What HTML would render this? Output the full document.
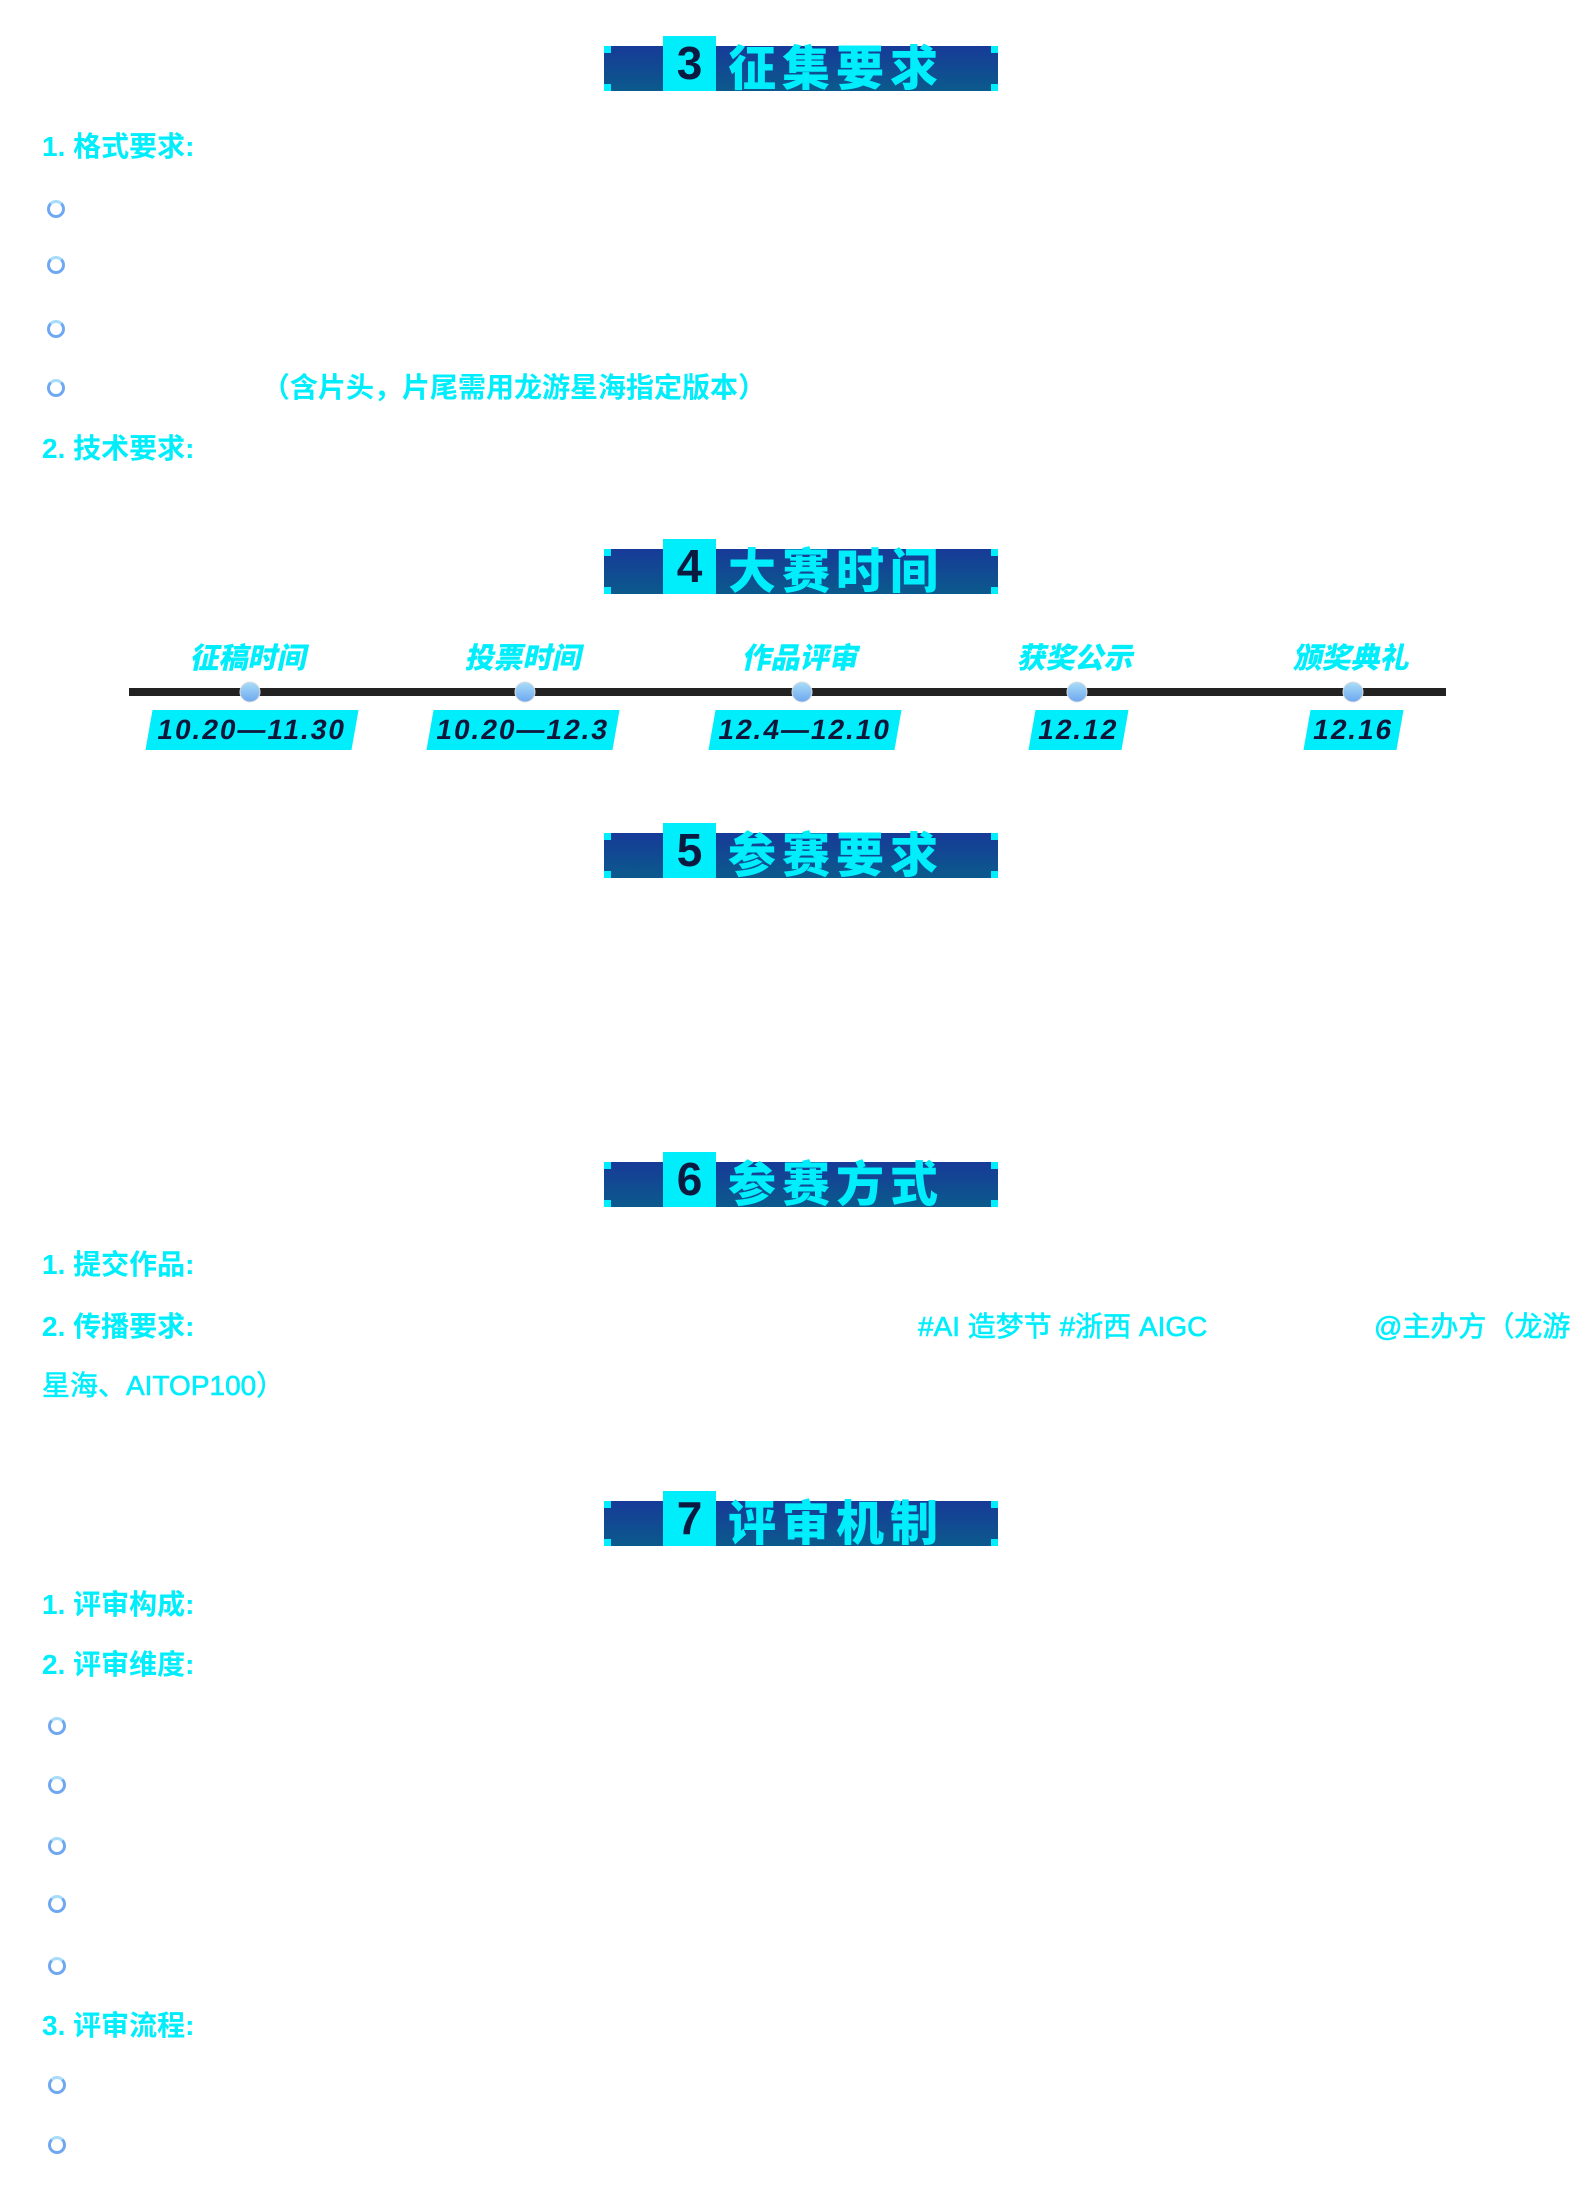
<!DOCTYPE html>
<html><head><meta charset="utf-8"><style>
body{margin:0;width:1576px;height:2200px;background:#fff;position:relative;overflow:hidden;font-family:"Liberation Sans","Noto Sans CJK SC",sans-serif;}
.a{position:absolute;}
.t{position:absolute;color:#00eefc;font-weight:bold;font-size:28px;line-height:28px;white-space:nowrap;transform:translateY(-50%);font-family:"Liberation Sans","Noto Sans CJK SC",sans-serif;}
.b{position:absolute;width:12px;height:12px;border-radius:50%;border:3.5px solid #6fa8f0;border-top-color:#a8dcf8;transform:translate(-50%,-50%);}
.bar{position:absolute;left:604px;width:394px;height:45px;background:linear-gradient(#173a98,#0b5a8c);}
.bar i{position:absolute;width:7px;height:7px;background:#00eefc;}
.sq{position:absolute;left:59px;top:-10px;width:53px;height:55px;background:#00eefc;color:#0b1a40;font-size:46px;font-weight:bold;text-align:center;line-height:55px;}
.tt{position:absolute;left:124px;top:-8px;color:#00eefc;font-size:48px;font-weight:900;letter-spacing:6px;line-height:52px;font-family:"Noto Sans CJK SC",sans-serif;white-space:nowrap;}
.lab{position:absolute;top:656px;color:#00eefc;font-weight:900;font-size:29px;transform:translate(-50%,-50%) skewX(-12deg);white-space:nowrap;font-family:"Noto Sans CJK SC",sans-serif;}
.dt{position:absolute;top:710px;height:40px;background:#00eefc;transform:skewX(-10deg);}
.dt span{display:block;text-align:center;font-weight:bold;font-size:28px;line-height:40px;color:#10163a;letter-spacing:2px;}
.dot{position:absolute;top:692px;width:19px;height:19px;border-radius:50%;background:linear-gradient(#a8dcf8,#6fa8f0);border:1px solid #ddd;transform:translate(-50%,-50%);}
</style></head><body>

<div class="bar" style="top:46px"><i style="left:0;top:0"></i><i style="left:0;bottom:0"></i><i style="right:0;top:0"></i><i style="right:0;bottom:0"></i><div class="sq">3</div><div class="tt">征集要求</div></div>
<div class="t" style="left:42px;top:147px">1. 格式要求:</div>
<div class="b" style="left:56px;top:209px"></div>
<div class="b" style="left:56px;top:265px"></div>
<div class="b" style="left:56px;top:329px"></div>
<div class="b" style="left:56px;top:388px"></div>
<div class="t" style="left:262px;top:388px">（含片头，片尾需用龙游星海指定版本）</div>
<div class="t" style="left:42px;top:449px">2. 技术要求:</div>

<div class="bar" style="top:549px"><i style="left:0;top:0"></i><i style="left:0;bottom:0"></i><i style="right:0;top:0"></i><i style="right:0;bottom:0"></i><div class="sq">4</div><div class="tt">大赛时间</div></div>
<div class="a" style="left:129px;top:688px;width:1317px;height:8px;background:#222;"></div>
<div class="lab" style="left:250px">征稿时间</div>
<div class="lab" style="left:525px">投票时间</div>
<div class="lab" style="left:802px">作品评审</div>
<div class="lab" style="left:1077px">获奖公示</div>
<div class="lab" style="left:1353px">颁奖典礼</div>
<div class="dot" style="left:250px"></div><div class="dot" style="left:525px"></div><div class="dot" style="left:802px"></div><div class="dot" style="left:1077px"></div><div class="dot" style="left:1353px"></div>
<div class="dt" style="left:149px;width:206px"><span>10.20—11.30</span></div>
<div class="dt" style="left:430px;width:186px"><span>10.20—12.3</span></div>
<div class="dt" style="left:712px;width:186px"><span>12.4—12.10</span></div>
<div class="dt" style="left:1032px;width:93px"><span>12.12</span></div>
<div class="dt" style="left:1307px;width:93px"><span>12.16</span></div>

<div class="bar" style="top:833px"><i style="left:0;top:0"></i><i style="left:0;bottom:0"></i><i style="right:0;top:0"></i><i style="right:0;bottom:0"></i><div class="sq">5</div><div class="tt">参赛要求</div></div>

<div class="bar" style="top:1162px"><i style="left:0;top:0"></i><i style="left:0;bottom:0"></i><i style="right:0;top:0"></i><i style="right:0;bottom:0"></i><div class="sq">6</div><div class="tt">参赛方式</div></div>
<div class="t" style="left:42px;top:1265px">1. 提交作品:</div>
<div class="t" style="left:42px;top:1327px">2. 传播要求:</div>
<div class="t" style="left:918px;top:1327px;font-weight:normal;-webkit-text-stroke:0.6px #00eefc">#AI 造梦节 #浙西 AIGC</div>
<div class="t" style="left:1374px;top:1327px;font-weight:normal;-webkit-text-stroke:0.6px #00eefc">@主办方（龙游</div>
<div class="t" style="left:42px;top:1386px;font-weight:normal;-webkit-text-stroke:0.6px #00eefc">星海、AITOP100）</div>

<div class="bar" style="top:1501px"><i style="left:0;top:0"></i><i style="left:0;bottom:0"></i><i style="right:0;top:0"></i><i style="right:0;bottom:0"></i><div class="sq">7</div><div class="tt">评审机制</div></div>
<div class="t" style="left:42px;top:1605px">1. 评审构成:</div>
<div class="t" style="left:42px;top:1665px">2. 评审维度:</div>
<div class="b" style="left:57px;top:1726px"></div>
<div class="b" style="left:57px;top:1785px"></div>
<div class="b" style="left:57px;top:1846px"></div>
<div class="b" style="left:57px;top:1904px"></div>
<div class="b" style="left:57px;top:1966px"></div>
<div class="t" style="left:42px;top:2026px">3. 评审流程:</div>
<div class="b" style="left:57px;top:2085px"></div>
<div class="b" style="left:57px;top:2145px"></div>
</body></html>
